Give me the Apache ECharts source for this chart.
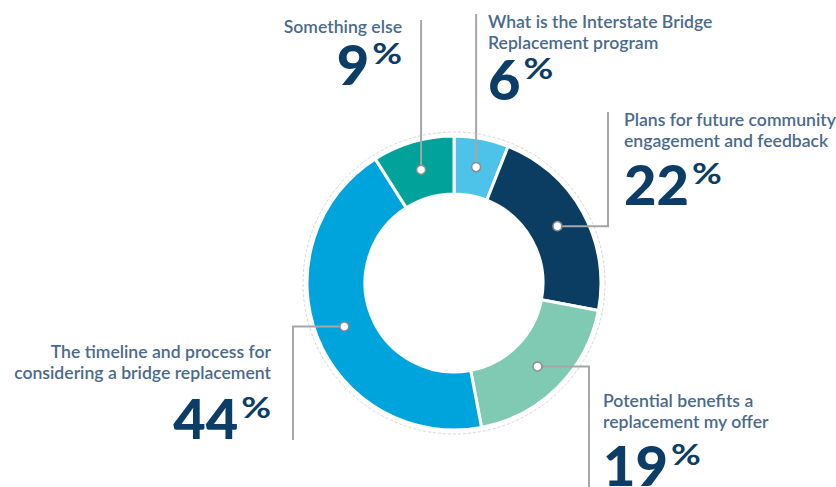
<!DOCTYPE html>
<html>
<head>
<meta charset="utf-8">
<script src="https://cdn.jsdelivr.net/npm/echarts@6/dist/echarts.min.js"></script>
<style>
  html, body { margin: 0; padding: 0; background: #ffffff; }
  #chart { width: 836px; height: 487px; }
</style>
</head>
<body>
<div id="chart"></div>
<script>
// Survey topics, clockwise from twelve o'clock
const topics = [
  'What is the Interstate Bridge Replacement program',
  'Plans for future community engagement and feedback',
  'Potential benefits a replacement my offer',
  'The timeline and process for considering a bridge replacement',
  'Something else'
];
const topicLines = [
  ['What is the Interstate Bridge', 'Replacement program'],
  ['Plans for future community', 'engagement and feedback'],
  ['Potential benefits a', 'replacement my offer'],
  ['The timeline and process for', 'considering a bridge replacement'],
  ['Something else']
];
const shares = [6, 22, 19, 44, 9];
const sliceColors = ['#4ec3e9', '#0b3c62', '#80cab4', '#00a4dc', '#00a29a'];

// Callout placement: text anchor, alignment and leader routing
const callouts = [
  { x: 488, base: 28,  numTop: 60,  align: 'left',  route: 'up',    endY: 14 },
  { x: 624, base: 126, numTop: 165, align: 'left',  route: 'right', bendX: 608, endY: 112 },
  { x: 603, base: 407, numTop: 446, align: 'left',  route: 'right', bendX: 589, endY: 487 },
  { x: 271, base: 358, numTop: 399, align: 'right', route: 'left',  bendX: 293, endY: 440 },
  { x: 402, base: 33,  numTop: 45,  align: 'right', route: 'up',    endY: 20 }
];

const LABEL_FONT = 'Lato, "Source Sans Pro", "Open Sans", sans-serif';
const LABEL_SIZE = 17.6;
const LABEL_LINE = 21;
const NUM_SIZE = 56;
const PCT_SIZE = 28;
const PCT_STRETCH = 1.3;
const labelColor = '#4a6a8c';
const numColor = '#0c3d66';

const chart = echarts.init(document.getElementById('chart'), null, { renderer: 'svg' });

chart.setOption({
  animation: false,
  backgroundColor: '#ffffff',
  series: [{
    type: 'pie',
    center: [454, 283],
    radius: [89, 147],
    startAngle: 90,
    clockwise: true,
    silent: true,
    label: { show: false },
    labelLine: { show: false },
    itemStyle: { borderColor: '#ffffff', borderWidth: 3 },
    data: shares.map((v, i) => ({
      name: topics[i],
      value: v,
      itemStyle: { color: sliceColors[i] }
    }))
  }]
});

// Measure text widths to set the superscript percent sign beside the number
const measureCtx = document.createElement('canvas').getContext('2d');
function textWidth(str, font) {
  measureCtx.font = font;
  return measureCtx.measureText(str).width;
}

const pieData = chart.getModel().getSeriesByIndex(0).getData();
const graphics = [];
let ringLayout = null;

shares.forEach((v, i) => {
  const lay = pieData.getItemLayout(i);
  ringLayout = lay;
  const mid = (lay.startAngle + lay.endAngle) / 2;
  const rr = (lay.r + lay.r0) / 2;
  const dx = lay.cx + rr * Math.cos(mid);
  const dy = lay.cy + rr * Math.sin(mid);
  const c = callouts[i];

  const pts = c.route === 'up'
    ? [[dx, dy], [dx, c.endY]]
    : [[dx, dy], [c.bendX, dy], [c.bendX, c.endY]];
  graphics.push({
    type: 'polyline', z: 10, silent: true,
    shape: { points: pts },
    style: { stroke: '#a6a6a6', lineWidth: 2, fill: null }
  });
  graphics.push({
    type: 'circle', z: 12, silent: true,
    shape: { cx: dx, cy: dy, r: 4.5 },
    style: { fill: '#ffffff', stroke: '#8c8c8c', lineWidth: 1.5 }
  });

  // Topic text (line box top so that the first baseline sits at c.base)
  graphics.push({
    type: 'text', z: 12, silent: true,
    x: c.x, y: c.base - (LABEL_LINE / 2 + 0.387 * LABEL_SIZE),
    style: {
      text: topicLines[i].join('\n'),
      font: '600 ' + LABEL_SIZE + 'px ' + LABEL_FONT,
      lineHeight: LABEL_LINE,
      fill: labelColor,
      align: c.align,
      verticalAlign: 'top'
    }
  });

  // Big percentage with a raised, wide percent sign
  const numStr = String(v);
  const numFont = '900 ' + NUM_SIZE + 'px ' + LABEL_FONT;
  const pctFont = '700 ' + PCT_SIZE + 'px ' + LABEL_FONT;
  const nw = textWidth(numStr, numFont);
  const pw = textWidth('%', pctFont) * PCT_STRETCH;
  const gap = 3;
  const numLeft = c.align === 'left' ? c.x : c.x - pw - gap - nw;
  graphics.push({
    type: 'text', z: 12, silent: true,
    x: numLeft, y: c.numTop + 0.33 * NUM_SIZE,
    style: { text: numStr, font: numFont, fill: numColor, align: 'left', verticalAlign: 'middle' }
  });
  graphics.push({
    type: 'text', z: 12, silent: true,
    x: numLeft + nw + gap, y: c.numTop - 1 + 0.33 * PCT_SIZE,
    scaleX: PCT_STRETCH,
    style: { text: '%', font: pctFont, fill: numColor, align: 'left', verticalAlign: 'middle' }
  });
});

// Faint dashed outline hugging the ring
graphics.unshift({
  type: 'circle', z: 1, silent: true,
  shape: { cx: ringLayout.cx, cy: ringLayout.cy, r: ringLayout.r + 4 },
  style: { fill: null, stroke: '#d6d6d6', lineWidth: 1, lineDash: [3, 2] }
});

chart.setOption({ graphic: { elements: graphics } });
</script>
</body>
</html>
